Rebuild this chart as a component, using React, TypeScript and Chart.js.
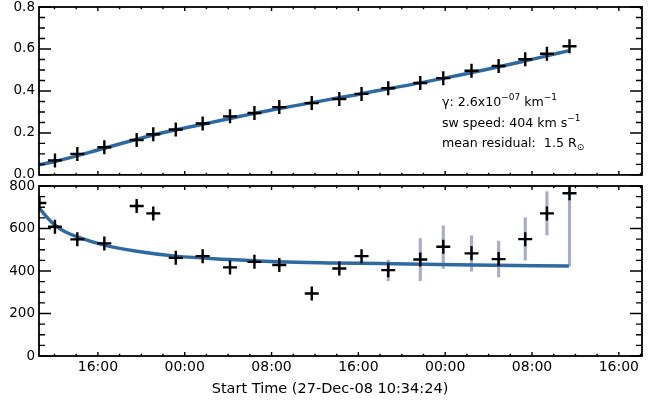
import React, { useEffect, useRef } from 'react';
import { Chart, registerables } from 'chart.js';

Chart.register(...registerables);

// ---------- data ----------
const X_MAX_HOURS = 55.56; // hours since start time
const START_TIME_LABEL = 'Start Time (27-Dec-08 10:34:24)';

const obsHours = [1.47, 3.53, 6.02, 9.0, 10.53, 12.6, 15.08, 17.6, 19.85, 22.14, 25.13, 27.67, 29.72, 32.18, 35.13, 37.25, 39.85, 42.35, 44.8, 46.8, 48.88];
const distanceAU = [0.069, 0.1, 0.132, 0.166, 0.194, 0.216, 0.245, 0.279, 0.295, 0.323, 0.342, 0.362, 0.386, 0.413, 0.438, 0.461, 0.496, 0.519, 0.551, 0.577, 0.613];

const speedHours = [0.03, 1.47, 3.53, 6.02, 9.0, 10.53, 12.6, 15.08, 17.6, 19.85, 22.14, 25.13, 27.67, 29.72, 32.18, 35.13, 37.25, 39.85, 42.35, 44.8, 46.8, 48.88];
const speedKms = [720, 608, 549, 530, 706, 671, 462, 470, 417, 443, 428, 294, 412, 470, 404, 454, 514, 483, 456, 550, 671, 766];
const speedErrLow = [700, 600, 542, 522, 692, 658, 455, 463, 410, 436, 421, 287, 405, 463, 354, 354, 412, 399, 372, 451, 569, 423];
const speedErrHigh = [742, 616, 556, 538, 720, 684, 469, 477, 424, 450, 435, 301, 419, 477, 451, 553, 613, 566, 541, 651, 773, 900];

const fitHoursTop = [0, 1.47, 6.02, 10.53, 15.08, 22.14, 29.72, 37.25, 44.78, 48.83];
const fitDistanceAU = [0.048, 0.064, 0.127, 0.19, 0.241, 0.316, 0.387, 0.46, 0.543, 0.592];

const fitHoursBottom = [0, 0.7, 1.47, 2.4, 3.53, 6.02, 9.0, 12.6, 17.6, 22.14, 26.8, 31.4, 40, 48.83];
const fitSpeedKms = [697, 655, 616, 585, 561, 522, 493, 470, 454, 443, 438, 435, 428, 423];

const xTickHours = [5.4267, 13.4267, 21.4267, 29.4267, 37.4267, 45.4267, 53.4267];
const xTickLabels = ['16:00', '00:00', '08:00', '16:00', '00:00', '08:00', '16:00'];
const X_MINOR_STEP = 2;

const BLUE = '#2e6aa1';
const ERR = '#a9adcb';
const FONT = '"DejaVu Sans", "Liberation Sans", sans-serif';

// ---------- plugins ----------
const framePlugin = {
  id: 'frame',
  afterDatasetsDraw(chart: any, _args: any, opts: any) {
    const { ctx, chartArea: a, scales } = chart;
    const xs = scales.x;
    const ys = scales.y;
    ctx.save();
    ctx.strokeStyle = '#000';
    ctx.lineWidth = 1.4;
    ctx.beginPath();
    const first = xTickHours[0];
    let start = first;
    while (start - X_MINOR_STEP >= xs.min) start -= X_MINOR_STEP;
    for (let v = start; v <= xs.max + 1e-9; v += X_MINOR_STEP) {
      const k = Math.round((v - first) / X_MINOR_STEP);
      const major = ((k % 4) + 4) % 4 === 0;
      const len = major ? 4 : 2.2;
      const px = xs.getPixelForValue(v);
      ctx.moveTo(px, a.bottom);
      ctx.lineTo(px, a.bottom - len);
      ctx.moveTo(px, a.top);
      ctx.lineTo(px, a.top + len);
    }
    const nMinor = Math.round((ys.max - ys.min) / opts.yMinor);
    const ratio = Math.round(opts.yMajor / opts.yMinor);
    for (let i = 0; i <= nMinor; i++) {
      const v = ys.min + i * opts.yMinor;
      const len = i % ratio === 0 ? 12 : 6;
      const py = ys.getPixelForValue(v);
      ctx.moveTo(a.left, py);
      ctx.lineTo(a.left + len, py);
      ctx.moveTo(a.right, py);
      ctx.lineTo(a.right - len, py);
    }
    ctx.stroke();
    ctx.lineWidth = 1.8;
    ctx.strokeRect(a.left, a.top, a.right - a.left, a.bottom - a.top);
    ctx.restore();
  },
  afterDraw(chart: any, _args: any, opts: any) {
    const { ctx } = chart;
    ctx.save();
    ctx.fillStyle = '#000';
    if (opts.title) {
      ctx.font = '14.5px ' + FONT;
      ctx.textAlign = 'center';
      ctx.textBaseline = 'middle';
      ctx.fillText(opts.title.text, opts.title.x, opts.title.y);
    }
    if (opts.lines) {
      ctx.textAlign = 'left';
      ctx.textBaseline = 'alphabetic';
      for (const line of opts.lines) {
        let cx = line.x;
        for (const [t, kind] of line.parts) {
          ctx.font = (kind === 'n' ? '12.6px ' : '9px ') + FONT;
          const dy = kind === 'sup' ? -6 : kind === 'sub' ? 3 : 0;
          ctx.fillText(t, cx, line.y + dy);
          cx += ctx.measureText(t).width;
        }
      }
    }
    ctx.restore();
  },
};

const TOP_OFFSET = -13;
const BOTTOM_OFFSET = 166;

function baseX(showLabels: boolean, height: number) {
  return {
    type: 'linear',
    min: 0,
    max: X_MAX_HOURS,
    offset: false,
    grid: { display: false, drawTicks: false, offset: false },
    border: { display: false },
    afterBuildTicks: (s: any) => {
      s.ticks = xTickHours.map((v) => ({ value: v }));
    },
    ticks: {
      display: showLabels,
      autoSkip: false,
      maxRotation: 0,
      padding: 3,
      color: '#000',
      font: { family: FONT, size: 14 },
      callback: (_v: any, i: number) => xTickLabels[i],
    },
    afterFit: (s: any) => {
      s.height = height;
    },
  };
}

function baseY(min: number, max: number, step: number, fmt: (v: number) => string) {
  return {
    min,
    max,
    grid: { display: false, drawTicks: false },
    border: { display: false },
    ticks: {
      stepSize: step,
      padding: 4,
      color: '#000',
      font: { family: FONT, size: 13.5 },
      callback: (v: any) => fmt(Number(v)),
    },
    afterFit: (s: any) => {
      s.width = 39;
    },
  };
}

const crossStyle = {
  pointStyle: 'cross',
  pointRadius: 7,
  pointBorderWidth: 2.4,
  pointBorderColor: '#000',
  pointBackgroundColor: '#000',
  borderColor: '#000',
  showLine: false,
};

export default function App() {
  const topRef = useRef<HTMLCanvasElement | null>(null);
  const botRef = useRef<HTMLCanvasElement | null>(null);

  useEffect(() => {
    document.body.style.margin = '0';
    const top = new Chart(topRef.current as HTMLCanvasElement, {
      type: 'scatter',
      data: {
        datasets: [
          {
            type: 'scatter',
            data: obsHours.map((h, i) => ({ x: h, y: distanceAU[i] })),
            ...crossStyle,
            order: 0,
          } as any,
          {
            type: 'line',
            data: fitHoursTop.map((h, i) => ({ x: h, y: fitDistanceAU[i] })),
            borderColor: BLUE,
            borderWidth: 3.5,
            pointRadius: 0,
            cubicInterpolationMode: 'monotone',
            fill: false,
            order: 1,
          } as any,
        ],
      },
      options: {
        responsive: false,
        animation: false,
        events: [],
        layout: { padding: { top: 20, bottom: 10, left: 0, right: 14 } },
        plugins: {
          legend: { display: false },
          tooltip: { enabled: false },
          frame: {
            yMajor: 0.2,
            yMinor: 0.05,
            lines: [
              { x: 442, y: 106 - TOP_OFFSET, parts: [['\u03b3: 2.6x10', 'n'], ['\u221207', 'sup'], [' km', 'n'], ['\u22121', 'sup']] },
              { x: 442, y: 126.5 - TOP_OFFSET, parts: [['sw speed: 404 km s', 'n'], ['\u22121', 'sup']] },
              { x: 442, y: 146.5 - TOP_OFFSET, parts: [['mean residual:  1.5 R', 'n'], ['\u2299', 'sub']] },
            ],
          },
        } as any,
        scales: {
          x: baseX(false, 0),
          y: baseY(0, 0.8, 0.2, (v) => v.toFixed(1)),
        } as any,
      },
      plugins: [framePlugin],
    });

    const bottom = new Chart(botRef.current as HTMLCanvasElement, {
      type: 'scatter',
      data: {
        datasets: [
          {
            type: 'scatter',
            data: speedHours.map((h, i) => ({ x: h, y: speedKms[i] })),
            ...crossStyle,
            order: 0,
          } as any,
          {
            type: 'line',
            data: fitHoursBottom.map((h, i) => ({ x: h, y: fitSpeedKms[i] })),
            borderColor: BLUE,
            borderWidth: 3.5,
            pointRadius: 0,
            cubicInterpolationMode: 'monotone',
            fill: false,
            order: 1,
          } as any,
          {
            type: 'bar',
            data: speedHours.map((h, i) => ({ x: h, y: [speedErrLow[i], speedErrHigh[i]] })),
            backgroundColor: ERR,
            borderWidth: 0,
            barThickness: 2.5,
            order: 2,
          } as any,
        ],
      },
      options: {
        responsive: false,
        animation: false,
        events: [],
        layout: { padding: { top: 20, bottom: 0, left: 0, right: 14 } },
        plugins: {
          legend: { display: false },
          tooltip: { enabled: false },
          frame: {
            yMajor: 200,
            yMinor: 50,
            title: { text: START_TIME_LABEL, x: 330, y: 389.5 - BOTTOM_OFFSET },
          },
        } as any,
        scales: {
          x: baseX(true, 44),
          y: baseY(0, 800, 200, (v) => String(Math.round(v))),
        } as any,
      },
      plugins: [framePlugin],
    });

    return () => {
      top.destroy();
      bottom.destroy();
    };
  }, []);

  return (
    <div style={{ position: 'fixed', left: 0, top: 0, width: 656, height: 400, overflow: 'hidden', background: '#fff' }}>
      <canvas
        ref={topRef}
        width={656}
        height={200}
        style={{ position: 'absolute', left: 0, top: TOP_OFFSET, width: 656, height: 200 }}
      />
      <canvas
        ref={botRef}
        width={656}
        height={234}
        style={{ position: 'absolute', left: 0, top: BOTTOM_OFFSET, width: 656, height: 234 }}
      />
    </div>
  );
}
